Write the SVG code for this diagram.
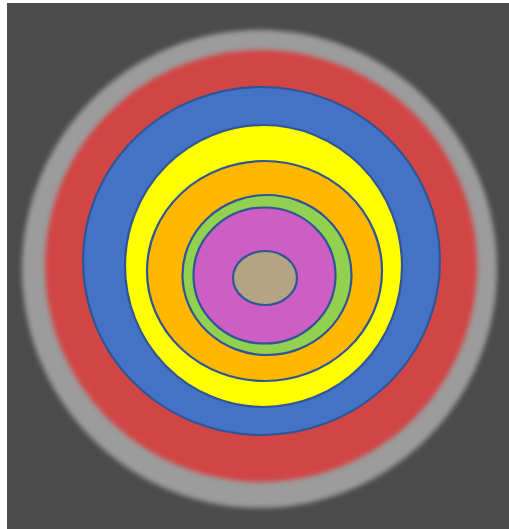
<svg xmlns="http://www.w3.org/2000/svg" width="509" height="529" viewBox="0 0 509 529">
  <style>
    .ring { stroke: #2f5597; stroke-width: 2.2; }
  </style>
  <defs>
    <filter id="soft" x="-10%" y="-10%" width="120%" height="120%">
      <feGaussianBlur stdDeviation="2.5"/>
    </filter>
  </defs>
  <rect x="0" y="0" width="509" height="529" fill="#ffffff"/>
  <rect id="background" x="7" y="3" width="502" height="526" fill="#4b4b4b"/>
  <g id="gray-ring"><ellipse cx="259.5" cy="269" rx="237.5" ry="239" fill="#9c9c9c" filter="url(#soft)"/></g>
  <g id="red-ring"><ellipse cx="261" cy="266" rx="216" ry="216" fill="#d24444" filter="url(#soft)"/></g>
  <g id="blue"><ellipse class="ring" cx="261.5" cy="261" rx="178.5" ry="174" fill="#4472c4"/></g>
  <g id="yellow"><ellipse class="ring" cx="263.5" cy="266" rx="138.5" ry="141" fill="#ffff00"/></g>
  <g id="orange"><ellipse class="ring" cx="264.5" cy="271" rx="117.5" ry="110" fill="#ffb700"/></g>
  <g id="green"><ellipse class="ring" cx="267" cy="275" rx="84.5" ry="80" fill="#92d050"/></g>
  <g id="magenta"><ellipse class="ring" cx="264.5" cy="275.5" rx="71" ry="68" fill="#cc5ec4"/></g>
  <g id="tan"><ellipse class="ring" cx="265" cy="278" rx="32" ry="27" fill="#b4a484"/></g>
</svg>
